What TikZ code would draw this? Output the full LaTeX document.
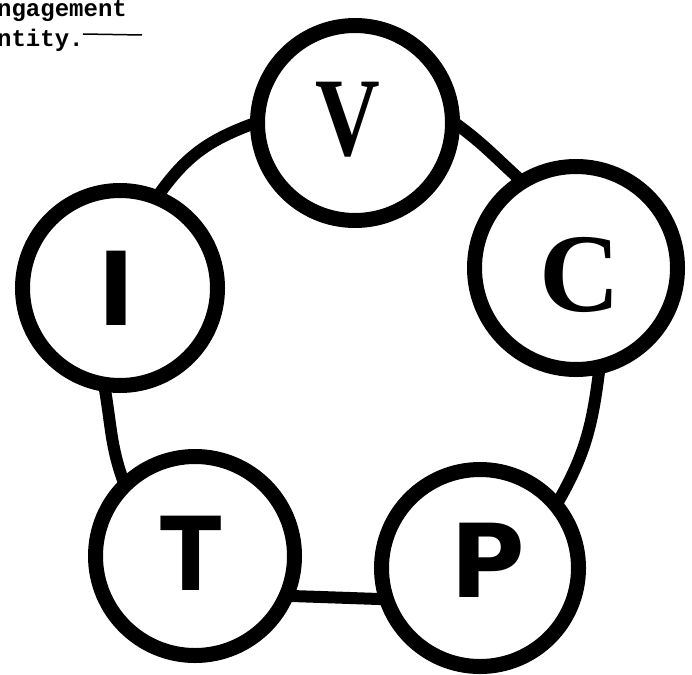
\documentclass[tikz,border=0pt]{standalone}
\usepackage{fontspec}
\setmainfont{Liberation Serif}
\newfontfamily\monof{Liberation Mono}
\newfontfamily\sansf{DejaVu Sans}
\usetikzlibrary{backgrounds}
\begin{document}
\begin{tikzpicture}[x=1pt,y=1pt,
  ring/.style={circle, draw, line width=15pt, fill=white, inner sep=0pt},
  link/.style={line width=12pt, shorten <=-6pt, shorten >=-6pt},
  serifletter/.style={inner sep=0pt, font=\bfseries\fontsize{112}{112}\selectfont},
  sansletter/.style={inner sep=0pt, font=\sansf\bfseries\fontsize{102}{102}\selectfont},
  typed/.style={anchor=base west, inner sep=0pt, font=\monof\bfseries\fontsize{24}{24}\selectfont}]
\useasboundingbox (0,0) rectangle (692,-674);
% circles
\node[ring, minimum size=195pt] (v) at (355,-123) {};
\node[ring, minimum size=203pt] (c) at (576,-268) {};
\node[ring, minimum size=195pt] (i) at (120,-288) {};
\node[ring, minimum size=199pt] (t) at (195,-556) {};
\node[ring, minimum size=197pt] (p) at (480,-568) {};
% letters
\node[serifletter] (vl) at (348,-120) {\scalebox{0.8}[1]{V}};
\node[serifletter] (cl) at (580,-275) {C};
\node[sansletter] (il) at (116,-288) {I};
\node[sansletter] (tl) at (191,-553) {\scalebox{0.88}[1]{T}};
\node[sansletter] (pl) at (488,-560) {P};
% text at top left
\node[typed] (t1) at (-3,-17) {ngagement};
\node[typed] (t2) at (-3,-47) {ntity.};
\coordinate (u1) at (83,-34);
\coordinate (u2) at (142,-35);
\draw[line width=1.5pt] (u1) -- (u2);
% connectors
\begin{scope}[on background layer]
\fill[white] (0,0) rectangle (692,-674);
\draw[link] (v.181) to[out=200, in=55] (i.67);
\draw[link] (v.-2) to[out=-36, in=138] (c.123);
\draw[link] (c.-78) to[out=-97, in=60] (p.41);
\draw[link] (p.197) -- (t.-22);
\draw[link] (t.133) to[out=110, in=-80] (i.-98);
\end{scope}
\end{tikzpicture}
\end{document}
